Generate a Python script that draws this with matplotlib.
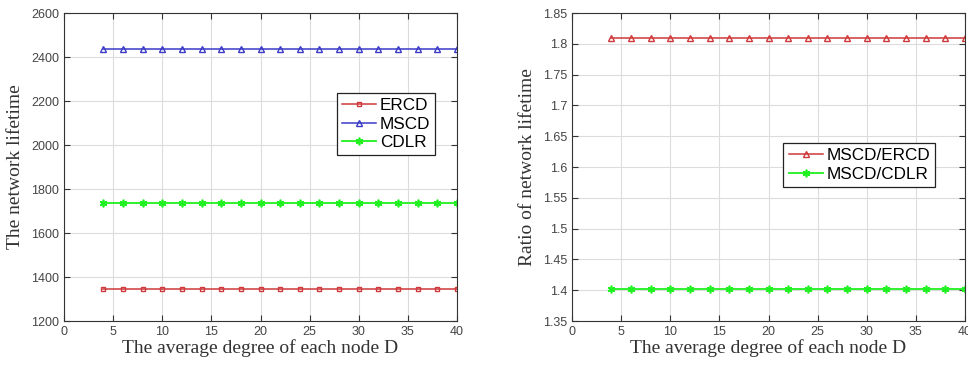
import matplotlib
matplotlib.use("Agg")
import matplotlib.pyplot as plt
import numpy as np

# average degree of each node
degree = np.arange(4, 41, 2)

# network lifetime (constant over D)
ercd = [1345] * len(degree)
mscd = [2435] * len(degree)
cdlr = [1736] * len(degree)

# lifetime ratios
ratio_ercd = [1.8094] * len(degree)
ratio_cdlr = [1.4025] * len(degree)

RED = "#d0393b"
BLUE = "#3b3bc8"
GREEN = "#1ff01f"
TICK_FONT = "Liberation Sans"
LABEL_FONT = "Liberation Serif"
ASTERISK = (6, 2, 0)


def style_axes(ax, ylim, yticks):
    ax.set_xlim(0, 40)
    ax.set_ylim(*ylim)
    ax.set_xticks(range(0, 41, 5))
    ax.set_yticks(yticks)
    ax.grid(True, color="#dcdcdc", linewidth=0.8)
    ax.set_axisbelow(True)
    ax.tick_params(direction="in", top=True, right=True, length=4,
                   labelsize=9, colors="#333333", labelcolor="#444444")
    for lab in ax.get_xticklabels() + ax.get_yticklabels():
        lab.set_fontfamily(TICK_FONT)
    for s in ax.spines.values():
        s.set_color("#333333")
        s.set_linewidth(0.8)
    ax.set_xlabel("The average degree of each node D", family=LABEL_FONT,
                  fontsize=14, color="#333333", labelpad=1)


def add_legend(ax, anchor):
    leg = ax.legend(loc="upper left", bbox_to_anchor=anchor,
                    prop={"family": TICK_FONT, "size": 12.3}, fancybox=False,
                    edgecolor="#222222", framealpha=1, borderpad=0.3,
                    handlelength=2.0, handletextpad=0.2, labelspacing=0.2,
                    borderaxespad=0)
    leg.get_frame().set_linewidth(0.9)


fig = plt.figure(figsize=(9.68, 3.66), dpi=100)

# left panel: lifetimes
ax1 = fig.add_axes([64 / 968, 1 - 321 / 366, 393 / 968, 308 / 366])
ax1.plot(degree, ercd, color=RED, marker="s", ms=3.5, mfc="none", lw=1.1,
         label="ERCD")
ax1.plot(degree, mscd, color=BLUE, marker="^", ms=5, mfc="none", lw=1.1,
         label="MSCD")
ax1.plot(degree, cdlr, color=GREEN, marker=ASTERISK, ms=5.5, mew=1.2, lw=1.3,
         label="CDLR")
style_axes(ax1, (1200, 2600), range(1200, 2601, 200))
ax1.set_ylabel("The network lifetime", family=LABEL_FONT, fontsize=14,
               color="#333333", labelpad=5)
add_legend(ax1, (0.695, 0.74))

# right panel: ratios
ax2 = fig.add_axes([572 / 968, 1 - 321 / 366, 393 / 968, 308 / 366])
ax2.plot(degree, ratio_ercd, color=RED, marker="^", ms=5, mfc="none", lw=1.1,
         label="MSCD/ERCD")
ax2.plot(degree, ratio_cdlr, color=GREEN, marker=ASTERISK, ms=5.5, mew=1.2,
         lw=1.3, label="MSCD/CDLR")
style_axes(ax2, (1.35, 1.85), np.arange(1.35, 1.851, 0.05))
ax2.set_yticklabels(["1.35", "1.4", "1.45", "1.5", "1.55", "1.6", "1.65",
                     "1.7", "1.75", "1.8", "1.85"], family=TICK_FONT)
ax2.set_ylabel("Ratio of network lifetime", family=LABEL_FONT, fontsize=14,
               color="#333333", labelpad=5)
add_legend(ax2, (0.538, 0.578))

fig.savefig("out.png", dpi=100)
